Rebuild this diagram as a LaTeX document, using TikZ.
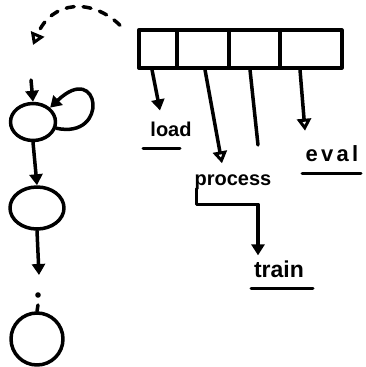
\documentclass[tikz,border=0pt]{standalone}
\usepackage{fontspec}
\setmainfont{Liberation Sans}
\usetikzlibrary{arrows.meta,calc,shapes.geometric}
\begin{document}
\begin{tikzpicture}[x=1pt,y=-1pt,
  ink/.style={line width=3.5pt, line cap=round, line join=round},
  hollow/.style={ink,-{Triangle[open,length=12pt,width=14pt,line width=3pt]}},
  solidtip/.style={ink,-{Triangle[length=11pt,width=13pt]}},
  cell/.style={draw,ink,minimum height=38pt,inner sep=0pt,anchor=west},
  state/.style={draw,ink,ellipse,inner sep=0pt},
  word/.style={inner sep=1pt,font=\bfseries\fontsize{20}{20}\selectfont},
  rule/.style={ink,line width=3pt}]
\useasboundingbox (0,0) rectangle (365,367);

% the array of four cells
\node[cell,minimum width=38pt] (c1) at (137,49) {};
\node[cell,minimum width=52pt] (c2) at (175,49) {};
\node[cell,minimum width=51pt] (c3) at (227,49) {};
\node[cell,minimum width=62pt] (c4) at (278,49) {};

% labels
\node[word] (load) at (171,129) {load};
\node[word] (process) at (233,182) {process};
\node[word] (eval) at (332,154) {\fontsize{22}{22}\selectfont\addfontfeature{LetterSpace=15}eval};
\node[word] (train) at (279,269) {\fontsize{23}{23}\selectfont train};

% underlines
\draw[rule] (143,148) -- (180,148);
\draw[rule] (302,173) -- (361,173);
\draw[rule] (251,288) -- (313,288);

% pointers from the cells
\draw[solidtip] ([xshift=15pt]c1.south west) -- ([xshift=-11pt,yshift=10pt]load.north);
\draw[hollow] ([xshift=30pt]c2.south west) -- ([xshift=-11pt,yshift=10pt]process.north);
\coordinate (free) at (258,145);
\draw[ink] ([xshift=23pt]c3.south west) -- (free);
\draw[hollow] ([xshift=22pt]c4.south west) -- ([xshift=-27pt,yshift=14pt]eval.north);
\draw[solidtip] ([xshift=3pt,yshift=2pt]process.south west) |- ([xshift=-21pt,yshift=55pt]train.north) -- ([xshift=-21pt,yshift=4pt]train.north);

% states
\node[state,minimum width=45pt,minimum height=37pt] (s1) at (33,122) {};
\node[state,minimum width=54pt,minimum height=42pt] (s2) at (37,208) {};
\node[state,minimum width=52pt,minimum height=52pt] (s3) at (37,339) {};

% dashed link from the array to the states
\coordinate (back) at (33,45);
\draw[hollow,dashed,dash pattern=on 8pt off 9pt] ([xshift=-17pt,yshift=3pt]c1.north west) .. controls (92,-2) and (52,0) .. (back);

% transitions
\coordinate (entry) at (31,80);
\draw[solidtip] (entry) -- (s1.north);
\draw[solidtip] (s1.-15) .. controls (110,140) and (100,60) .. (s1.40);
\draw[solidtip] (s1.south) -- (s2.north);
\coordinate (more) at (39,275);
\draw[solidtip] (s2.south) -- (more);
\fill (38,295) circle (2.8pt);
\coordinate (tick) at (38,305);
\draw[ink] (tick) -- (s3.north);
\end{tikzpicture}
\end{document}
